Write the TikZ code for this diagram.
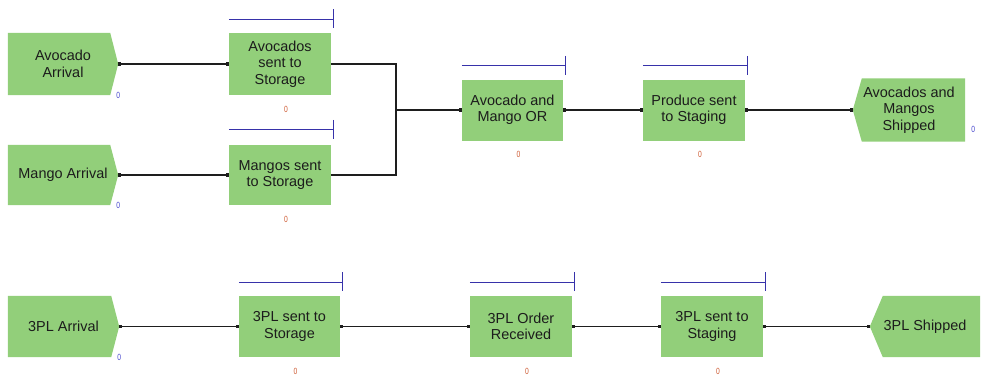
\documentclass[tikz,border=0pt]{standalone}
\usepackage{fontspec}
\usepackage{graphicx}
\setmainfont{Liberation Sans}
\usetikzlibrary{arrows.meta,backgrounds}
\definecolor{boxgreen}{RGB}{146,207,122}
\definecolor{barblue}{RGB}{55,50,170}
\definecolor{zeroblue}{RGB}{70,70,205}
\definecolor{zerored}{RGB}{205,90,50}
\definecolor{txtcol}{RGB}{28,28,28}
\definecolor{wirecol}{RGB}{30,30,30}
\newcommand\holdbar[2][13.5]{%
  \draw[barline] ([yshift=#1bp]#2.north west) -- ([xshift=2bp,yshift=#1bp]#2.north east)
    ++(0,-10) -- ++(0,19);
  \node[zr] at ([xshift=6bp,yshift=-14bp]#2.south) {\scalebox{0.75}[1]{0}};}
\begin{document}
\begin{tikzpicture}[x=1bp,y=-1bp,
  lbl/.style={inner sep=0pt, align=center, text=txtcol, font=\fontsize{14.5}{16.5}\selectfont},
  act/.style={lbl, fill=boxgreen, minimum width=102bp, minimum height=61bp},
  src/.style={lbl, minimum width=110bp, minimum height=62bp},
  wire/.style={draw=wirecol, line width=1.3bp, {Square[length=3bp,width=3.5bp]}-{Square[length=3bp,width=3.5bp]}},
  barline/.style={draw=barblue, line width=1.2bp},
  zr/.style={inner sep=0pt, text=zerored, font=\fontsize{9}{9}\selectfont},
  zb/.style={inner sep=0pt, text=zeroblue, font=\fontsize{9}{9}\selectfont},
]
\useasboundingbox (0,0) rectangle (983,375);

% ---- row 1 ----
\node[src] (avA) at (63,64) {Avocado\\Arrival};
\node[act, minimum height=62bp] (avS) at (280,64) {Avocados\\sent to\\Storage};
\node[src, minimum height=60bp] (maA) at (63,175) {Mango Arrival};
\node[act, minimum height=60bp] (maS) at (280,175) {Mangos sent\\to Storage};
\node[act, minimum width=101bp] (orB) at (512.5,110) {Avocado and\\Mango OR};
\node[act] (prS) at (694,110) {Produce sent\\to Staging};
\node[src, minimum width=112bp, minimum height=63bp] (shp) at (909,110) {Avocados and\\Mangos\\Shipped};

% ---- row 2 ----
\node[src, minimum width=111bp, minimum height=61bp] (tA) at (63.5,326.5) {3PL Arrival};
\node[act, minimum width=101bp] (tS) at (289.5,326.5) {3PL sent to\\Storage};
\node[act] (tO) at (521,326.5) {3PL Order\\Received};
\node[act] (tG) at (712,326.5) {3PL sent to\\Staging};
\node[src, minimum width=110bp, minimum height=61bp] (tSh) at (925,326.5) {3PL Shipped};

% pentagon fills for arrival / shipped nodes
\begin{scope}[on background layer]
  \foreach \n in {avA,maA,tA}{
    \fill[boxgreen] (\n.north west) -- ([xshift=-8bp]\n.north east) -- (\n.east)
      -- ([xshift=-8bp]\n.south east) -- (\n.south west) -- cycle;}
  \fill[boxgreen] (shp.north east) -- ([xshift=9bp]shp.north west) -- (shp.west)
      -- ([xshift=9bp]shp.south west) -- (shp.south east) -- cycle;
  \fill[boxgreen] (tSh.north east) -- ([xshift=13bp]tSh.north west) -- (tSh.west)
      -- ([xshift=13bp]tSh.south west) -- (tSh.south east) -- cycle;
\end{scope}

% hold bars and red counters
\holdbar{avS}
\holdbar[15]{maS}
\holdbar{orB}
\holdbar{prS}
\holdbar{tS}
\holdbar{tO}
\holdbar{tG}

% blue counters
\node[zb] at (avA.south east) {\scalebox{0.75}[1]{0}};
\node[zb] at (maA.south east) {\scalebox{0.75}[1]{0}};
\node[zb] at (tA.south east) {\scalebox{0.75}[1]{0}};
\node[zb] at ([xshift=8bp,yshift=12bp]shp.south east) {\scalebox{0.75}[1]{0}};

% connectors
\coordinate (j) at (396,110);
\draw[wire] (avA.east) -- (avS.west);
\draw[wire] (maA.east) -- (maS.west);
\draw[wire, -] (avS.east) -| (j);
\draw[wire, -] (maS.east) -| (j);
\draw[wire, {Square[length=0pt,width=0pt]}-{Square[length=3bp,width=3.5bp]}] (j) -- (orB.west);
\draw[wire] (orB.east) -- (prS.west);
\draw[wire] (prS.east) -- (shp.west);
\draw[wire] (tA.east) -- (tS.west);
\draw[wire] (tS.east) -- (tO.west);
\draw[wire] (tO.east) -- (tG.west);
\draw[wire] (tG.east) -- (tSh.west);
\end{tikzpicture}
\end{document}
